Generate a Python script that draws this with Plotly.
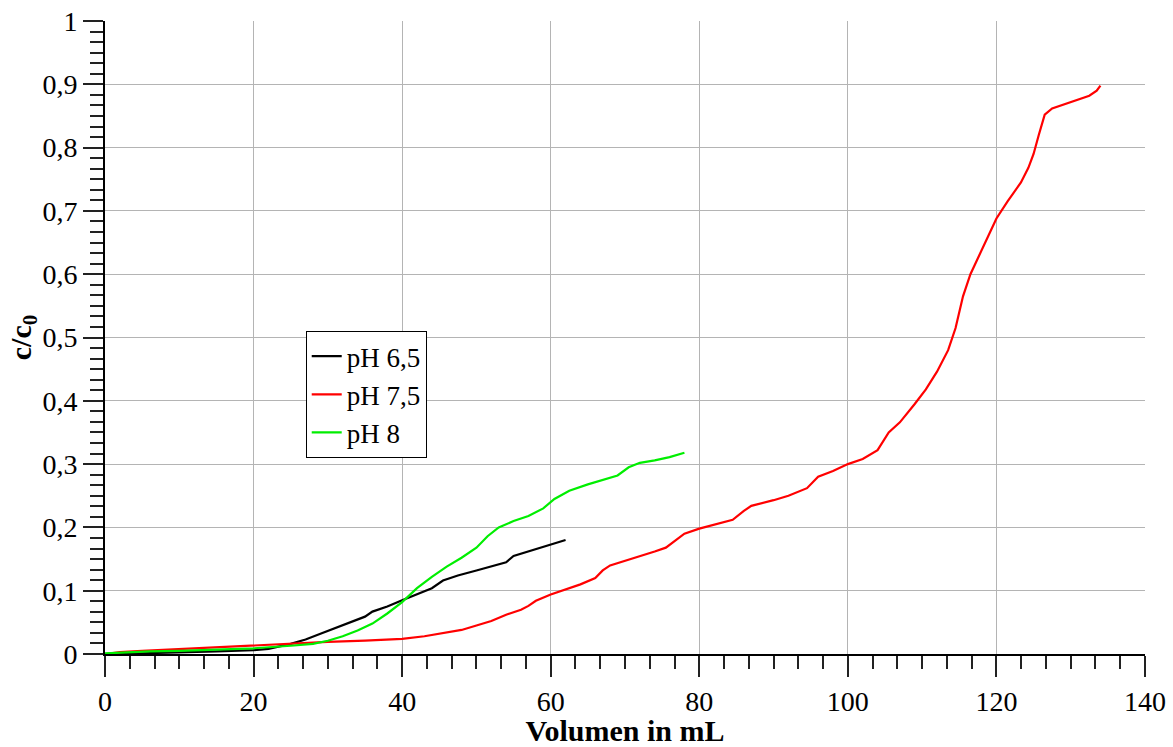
import plotly.graph_objects as go

# pH 6,5 (black)
v_ph65 = [1, 5, 10, 15, 20, 22, 25, 27, 29, 31, 33, 35, 36, 38, 40, 42, 44, 45.5, 47.5, 50, 52, 54, 55, 57, 59, 61, 62]
c_ph65 = [0.000, 0.001, 0.002, 0.004, 0.006, 0.008, 0.016, 0.023, 0.032, 0.041, 0.049, 0.059, 0.067, 0.075, 0.085, 0.094,
          0.104, 0.116, 0.124, 0.132, 0.138, 0.145, 0.155, 0.162, 0.170, 0.176, 0.180]

# pH 7,5 (red)
v_ph75 = [0, 2, 5, 10, 15, 20, 25, 30, 35, 40, 43, 46, 48, 50, 52, 54, 56, 57, 58, 60, 62, 64, 66, 67, 68, 70, 72, 74,
          75.5, 77, 78, 80, 82, 84.5, 86, 87, 90, 92, 94.5, 96, 98, 100, 102, 104, 105.5, 107, 109, 110.5, 112, 113.5,
          114.5, 115.5, 116.5, 117.5, 118.5, 120, 121.5, 123.3, 124.3, 125, 125.7, 126.5, 127.5, 129, 131, 132.5, 133.5, 134]
c_ph75 = [0.000, 0.003, 0.005, 0.008, 0.011, 0.013, 0.016, 0.019, 0.021, 0.024, 0.028, 0.034, 0.038, 0.045, 0.052, 0.062,
          0.070, 0.076, 0.084, 0.094, 0.102, 0.110, 0.120, 0.132, 0.140, 0.147, 0.154, 0.162, 0.168, 0.182, 0.190, 0.198,
          0.204, 0.212, 0.226, 0.234, 0.243, 0.250, 0.262, 0.280, 0.289, 0.300, 0.308, 0.322, 0.350, 0.366, 0.395, 0.418,
          0.446, 0.480, 0.515, 0.565, 0.600, 0.625, 0.650, 0.688, 0.715, 0.745, 0.768, 0.790, 0.820, 0.852, 0.862, 0.868,
          0.875, 0.882, 0.890, 0.898]

# pH 8 (green)
v_ph8 = [0, 3, 6, 10, 15, 20, 25, 28, 30, 32, 34, 36, 38, 40, 42, 44, 46, 48, 50, 51.5, 53, 55, 57, 59, 60.5, 62.5, 65,
         67.5, 69, 70.5, 72, 74, 76, 78]
c_ph8 = [0.001, 0.003, 0.004, 0.005, 0.007, 0.009, 0.013, 0.016, 0.021, 0.028, 0.037, 0.048, 0.064, 0.082, 0.104, 0.122,
         0.138, 0.152, 0.168, 0.186, 0.200, 0.210, 0.218, 0.230, 0.245, 0.258, 0.268, 0.276, 0.282, 0.295, 0.302, 0.306,
         0.311, 0.318]

series_names = ["pH 6,5", "pH 7,5", "pH 8"]
series_colors = ["#000000", "#ff0000", "#00ee00"]

x_tickvals = [0, 20, 40, 60, 80, 100, 120, 140]
x_ticktext = ["0", "20", "40", "60", "80", "100", "120", "140"]
y_tickvals = [0, 0.1, 0.2, 0.3, 0.4, 0.5, 0.6, 0.7, 0.8, 0.9, 1]
y_ticktext = ["0", "0,1", "0,2", "0,3", "0,4", "0,5", "0,6", "0,7", "0,8", "0,9", "1"]

FONT = "Liberation Serif, Times New Roman, serif"

fig = go.Figure()
for name, col, xs, ys in zip(series_names, series_colors,
                             [v_ph65, v_ph75, v_ph8], [c_ph65, c_ph75, c_ph8]):
    fig.add_trace(go.Scatter(x=xs, y=ys, mode="lines", name=name,
                             line=dict(color=col, width=2.2)))

fig.update_layout(
    width=1173, height=747,
    paper_bgcolor="white", plot_bgcolor="white",
    margin=dict(l=105, r=28, t=21, b=93, autoexpand=False),
    font=dict(family=FONT, color="black", size=27),
    showlegend=True,
    legend=dict(
        x=0.193, y=0.51, xanchor="left", yanchor="top",
        bgcolor="white", bordercolor="black", borderwidth=1,
        font=dict(family=FONT, size=27, color="black"),
        itemwidth=30, tracegroupgap=0,
    ),
)

fig.update_xaxes(
    range=[0, 140], tickvals=x_tickvals, ticktext=x_ticktext, automargin=False,
    showgrid=True, gridcolor="#b4b4b4", gridwidth=1.3,
    zeroline=False, showline=True, linecolor="black", linewidth=2,
    ticks="outside", ticklen=21, tickwidth=1.6, tickcolor="#222",
    minor=dict(tick0=0, dtick=20 / 6, ticks="outside", ticklen=13, tickwidth=1.6,
               tickcolor="#222", showgrid=False),
    tickfont=dict(family=FONT, size=28),
    title=dict(text="<b>Volumen in mL</b>", font=dict(family=FONT, size=30), standoff=4),
)
fig.update_yaxes(
    range=[0, 1], tickvals=y_tickvals, ticktext=y_ticktext, automargin=False,
    showgrid=True, gridcolor="#b4b4b4", gridwidth=1.3,
    zeroline=False, showline=True, linecolor="black", linewidth=2,
    ticks="outside", ticklen=20, tickwidth=1.6, tickcolor="#222",
    minor=dict(tick0=0, dtick=0.1 / 6, ticks="outside", ticklen=13, tickwidth=1.6,
               tickcolor="#222", showgrid=False),
    tickfont=dict(family=FONT, size=28),
    title=dict(text="<b>c/c<sub>0</sub></b>", font=dict(family=FONT, size=30), standoff=0),
)

fig.write_html("out.html", config={"displayModeBar": False},
               post_script="document.body.style.margin='0';document.body.style.overflow='hidden';")
